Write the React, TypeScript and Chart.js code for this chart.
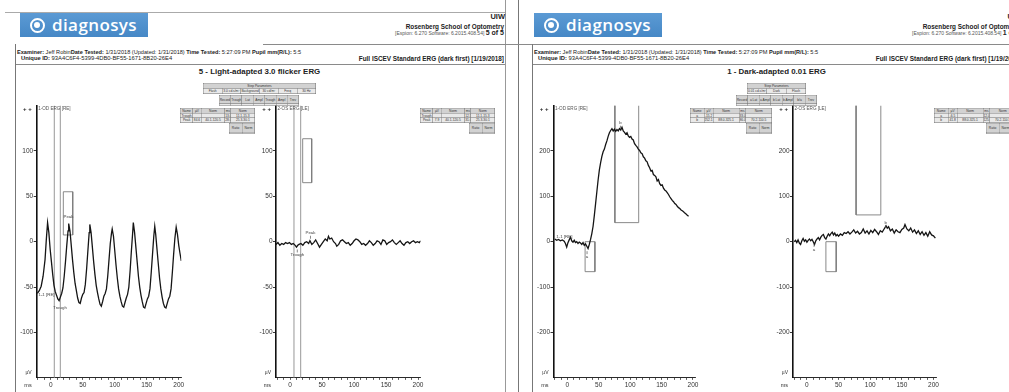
import React, { useEffect, useRef } from "react";
import { Chart, registerables } from "chart.js";
Chart.register(...registerables);

const FONT = '"Liberation Sans", Arial, Helvetica, sans-serif';
type Pt = [number, number];

// ---- Waveforms (ms, µV) ----
const flickerRE: Pt[] = [
  [-21, -57], [-18, -54], [-15, -49], [-12, -38], [-9, -20], [-7, 2], [-5, 21], [-3, 10], [-1, -8], [1, -22], [3, -36], [5, -48], [7, -55], [9, -59], [11, -63], [13, -65], [15, -61], [17, -57], [19, -51], [21, -38], [23, -22], [25, -4], [27, 12], [28, 20],
  [30, 12], [32, -4], [34, -20], [36, -34], [38, -46], [40, -54], [42, -62], [44, -67], [46, -68], [48, -62], [50, -58], [52, -56], [54, -47], [56, -30], [58, -10], [60, 10], [61, 19],
  [63, 10], [65, -6], [67, -22], [69, -36], [71, -48], [73, -56], [75, -63], [77, -69], [79, -71], [81, -66], [83, -60], [85, -57], [87, -52], [89, -38], [91, -20], [93, -2], [95, 10], [96, 14],
  [98, 6], [100, -10], [102, -26], [104, -40], [106, -52], [108, -60], [110, -66], [112, -71], [114, -72], [116, -67], [118, -62], [120, -58], [122, -50], [124, -32], [126, -10], [128, 10], [129, 21],
  [131, 10], [133, -6], [135, -22], [137, -38], [139, -50], [141, -59], [143, -66], [145, -72], [147, -73], [149, -68], [151, -63], [153, -60], [155, -52], [157, -34], [159, -14], [161, 6], [162.5, 17],
  [164, 8], [166, -8], [168, -24], [170, -40], [172, -52], [174, -61], [176, -68], [178, -72], [180, -73], [182, -68], [184, -63], [186, -60], [188, -52], [190, -34], [192, -14], [194, 4], [196, 16],
  [198, 8], [200, -4], [202, -13], [204, -21],
];
const flickerLE: Pt[] = [
  [-22, -3], [-19, -1], [-16, -4], [-13, -2], [-10, -3], [-7, -1], [-4, -2], [-1, -1], [2, -3], [5, -2], [8, -4], [10, -6], [12, -4], [14, -3], [17, -2], [20, -4], [23, -1], [26, 0], [29, -2], [31, 1],
  [34, -3], [37, -1], [40, 2], [43, -2], [46, -6], [49, -3], [52, 0], [55, 3], [58, 1], [60, 6], [62, 3], [65, 4], [68, 0], [71, -2], [73, -5], [76, -3], [79, 1], [82, 2], [85, 0], [88, -2],
  [91, -1], [94, -4], [97, -2], [100, 1], [103, 3], [106, 2], [109, 0], [112, -3], [115, -2], [118, -4], [121, -2], [124, 1], [127, -1], [130, -4], [133, -2], [136, 1], [139, 0], [142, -3],
  [145, 2], [148, 1], [151, -3], [154, -1], [157, 0], [160, 2], [163, -1], [166, -3], [169, -1], [172, 1], [175, -2], [178, -4], [181, -1], [184, 0], [187, -2], [190, 0], [193, 1], [196, -1],
  [199, 0], [202, -1], [204, 1],
];
const darkRE: Pt[] = [
  [-20, 6], [-17, 3], [-14, 5], [-11, 2], [-8, 4], [-5, 1], [-3, -4], [-1, -12], [1, -2], [3, 4], [5, 10], [7, 2], [9, -1], [11, 3], [13, -2], [15, 0], [17, -4], [19, -1], [21, -3], [23, -6],
  [25, -2], [27, -8], [29, -5], [31, -10], [33, -15], [35, -6], [37, 5], [39, 18], [41, 34], [43, 58], [45, 84], [47, 110], [49, 136], [51, 158], [53, 174], [55, 188], [57, 198], [59, 204],
  [61, 214], [63, 222], [65, 232], [67, 240], [69, 245], [71, 249], [73, 244], [75, 248], [77, 243], [79, 247], [81, 244], [83, 249], [85, 246], [87, 252], [89, 244], [91, 241], [93, 237],
  [95, 240], [97, 233], [99, 230], [101, 232], [103, 226], [105, 224], [107, 216], [109, 212], [111, 209], [113, 204], [115, 201], [117, 196], [119, 194], [121, 187], [123, 184], [125, 178],
  [127, 176], [129, 168], [131, 163], [133, 156], [135, 157], [137, 148], [139, 146], [141, 143], [143, 134], [145, 137], [147, 128], [149, 124], [151, 125], [153, 118], [155, 114], [157, 112],
  [159, 108], [161, 104], [163, 99], [165, 95], [167, 91], [169, 88], [171, 84], [173, 82], [175, 78], [177, 75], [179, 73], [181, 70], [183, 68], [185, 66], [187, 63], [189, 61], [191, 58], [193, 56],
];
const darkLE: Pt[] = [
  [-20, 0], [-18, 3], [-16, -2], [-14, 4], [-12, -3], [-10, -6], [-8, 2], [-6, 7], [-4, 1], [-2, 4], [0, -1], [2, 3], [4, 6], [6, 2], [8, 5], [10, 0], [12, -6], [14, 2], [16, 6], [18, 9],
  [20, 4], [22, 10], [24, 14], [26, 16], [28, 9], [30, 6], [32, 12], [34, 17], [36, 13], [38, 18], [40, 21], [42, 15], [44, 19], [46, 13], [48, 16], [50, 12], [53, 17], [56, 14], [59, 20],
  [62, 18], [65, 22], [68, 17], [71, 21], [74, 26], [77, 19], [80, 23], [83, 17], [86, 20], [89, 28], [92, 19], [95, 24], [98, 17], [101, 25], [104, 20], [107, 27], [110, 22], [113, 16],
  [116, 24], [119, 21], [122, 28], [125, 35], [127, 30], [129, 33], [132, 24], [135, 28], [138, 19], [141, 26], [144, 22], [147, 20], [150, 27], [153, 30], [155, 38], [158, 28], [161, 24],
  [164, 30], [167, 21], [170, 26], [173, 18], [176, 24], [179, 16], [182, 22], [185, 14], [188, 20], [191, 12], [194, 22], [197, 15], [200, 13], [203, 8],
];

// ---- Axis tick labels ----
const xTickLabels = [0, 50, 100, 150, 200];
const lightYLabels = [-100, -50, 0, 50, 100];
const darkYLabels = [-200, -100, 0, 100, 200];

// ---- Cursors (ms) and windows (ms / µV) ----
const flickerRECursors = [5.5, 14.9];
const flickerLECursors = [6.1, 16.6];
type Box = { x0: number; x1: number; y0: number; y1: number; open?: boolean };
const flickerREBoxes: Box[] = [{ x0: 19.6, x1: 34.3, y0: 7.4, y1: 55 }];
const flickerLEBoxes: Box[] = [{ x0: 19.7, x1: 33.8, y0: 65, y1: 113.4 }];
const darkREBoxes: Box[] = [{ x0: 28.3, x1: 43.9, y0: -66, y1: 0 }, { x0: 75.7, x1: 113.6, y0: 42, y1: 300, open: true }];
const darkLEBoxes: Box[] = [{ x0: 30, x1: 46.3, y0: -66, y1: 0 }, { x0: 77.7, x1: 116.8, y0: 59, y1: 300, open: true }];

type Lbl = { t: string; x: number; y: number; tick?: "up" | "down" };
const flickerRELabels: Lbl[] = [{ t: "Peak", x: 27.7, y: 27.5 }, { t: "Trough", x: 14.4, y: -72.7 }, { t: "1-1 [RE]", x: -6.7, y: -58.7 }];
const flickerLELabels: Lbl[] = [{ t: "Peak", x: 31.9, y: 9.3, tick: "down" }, { t: "Trough", x: 11.3, y: -14.6, tick: "up" }];
const darkRELabels: Lbl[] = [{ t: "b", x: 84.6, y: 261, tick: "down" }, { t: "a", x: 31.4, y: -33, tick: "up" }, { t: "1-1 [RE]", x: -4.8, y: 11 }];
const darkLELabels: Lbl[] = [{ t: "b", x: 124.4, y: 42, tick: "down" }, { t: "a", x: 11.3, y: -17, tick: "up" }];

type Area = { l: number; r: number; t: number; b: number };

function ErgChart(props: {
  area: Area; yMin: number; yMax: number; yStep: number; yLabels: number[];
  trace: Pt[]; cursors: number[]; boxes: Box[]; labels: Lbl[]; channel: string;
}) {
  const ref = useRef<HTMLCanvasElement>(null);
  const { area } = props;
  const cl = Math.floor(area.l) - 34;
  const ct = 92;
  const cw = Math.ceil(area.r - cl) + 12;
  const ch = 300;
  useEffect(() => {
    const { yMin, yMax, yStep, yLabels, trace, cursors, boxes, labels, channel } = props;
    const datasets: any[] = [];
    datasets.push({ data: trace.map(([x, y]) => ({ x, y })), borderColor: "#151515", borderWidth: 1.3, pointRadius: 0, tension: 0 });
    cursors.forEach((c) => datasets.push({ data: [{ x: c, y: yMin }, { x: c, y: yMax }], borderColor: "#8c8c8c", borderWidth: 0.9, pointRadius: 0 }));
    boxes.forEach((b) => {
      const pts = b.open
        ? [[b.x0, b.y1], [b.x0, b.y0], [b.x1, b.y0], [b.x1, b.y1]]
        : [[b.x0, b.y0], [b.x0, b.y1], [b.x1, b.y1], [b.x1, b.y0], [b.x0, b.y0]];
      datasets.push({ data: pts.map(([x, y]) => ({ x, y })), borderColor: "#7c7c7c", borderWidth: 0.9, pointRadius: 0 });
    });
    const annot = {
      id: "ergAnnot",
      afterDatasetsDraw(chart: any) {
        const { ctx, chartArea: a, scales } = chart;
        ctx.save();
        ctx.textBaseline = "middle";
        ctx.fillStyle = "#222";
        ctx.font = `bold 6px ${FONT}`;
        ctx.textAlign = "right";
        ctx.fillText("+ +", a.left - 5, a.top + 3.5);
        ctx.font = `4.6px ${FONT}`;
        ctx.fillStyle = "#555";
        ctx.textAlign = "left";
        ctx.fillText(channel, a.left + 1.5, a.top + 3.5);
        ctx.fillStyle = "#333";
        ctx.font = `5px ${FONT}`;
        ctx.textAlign = "right";
        ctx.fillText("µV", a.left - 5, a.bottom - 5);
        ctx.font = `5.5px ${FONT}`;
        ctx.fillText("ms", a.left - 5, a.bottom + 7.5);
        ctx.font = `4.4px ${FONT}`;
        ctx.textAlign = "center";
        ctx.fillStyle = "#444";
        ctx.strokeStyle = "#555";
        ctx.lineWidth = 0.7;
        labels.forEach((l) => {
          const px = scales.x.getPixelForValue(l.x);
          const py = scales.y.getPixelForValue(l.y);
          ctx.fillText(l.t, px, py);
          if (l.tick) {
            const d = l.tick === "down" ? 1 : -1;
            ctx.beginPath();
            ctx.moveTo(px, py + d * 2.5);
            ctx.lineTo(px, py + d * 5.5);
            ctx.stroke();
          }
        });
        ctx.restore();
      },
    };
    const chart = new Chart(ref.current as HTMLCanvasElement, {
      type: "line",
      data: { datasets },
      options: {
        animation: false,
        responsive: false,
        devicePixelRatio: 1,
        events: [],
        layout: { padding: { top: area.t - ct, right: cl + cw - area.r, left: 0, bottom: 0 } },
        plugins: { legend: { display: false }, tooltip: { enabled: false } },
        scales: {
          x: {
            type: "linear", min: -22, max: 204,
            afterFit: (s: any) => { s.height = ct + ch - area.b; },
            border: { display: true, color: "#2a2a2a", width: 1 },
            grid: { drawOnChartArea: false, drawTicks: true, tickLength: 2, color: "#333", lineWidth: 0.8 },
            ticks: {
              stepSize: 10, includeBounds: false, autoSkip: false, maxRotation: 0, minRotation: 0, padding: 1.5,
              font: { size: 6.5, family: FONT }, color: "#333",
              callback: (v: any) => (xTickLabels.includes(Number(v)) ? String(v) : ""),
            },
          },
          y: {
            type: "linear", min: yMin, max: yMax,
            afterFit: (s: any) => { s.width = area.l - cl; },
            border: { display: true, color: "#111", width: 1.6 },
            grid: { drawOnChartArea: false, drawTicks: true, tickLength: 3, color: "#222", lineWidth: 0.9 },
            ticks: {
              stepSize: yStep, includeBounds: false, padding: 0.5,
              font: { size: 6.5, family: FONT }, color: "#333",
              callback: (v: any) => (yLabels.includes(Number(v)) ? String(v) : null),
            },
          },
        },
      } as any,
      plugins: [annot],
    });
    return () => chart.destroy();
  }, []);
  return (
    <canvas
      ref={ref}
      width={cw}
      height={ch}
      style={{ position: "absolute", left: cl, top: ct, width: cw, height: ch }}
    />
  );
}

function MiniTable(props: { x: number; y: number; w: number; h: number; rows: string[][]; widths?: number[]; head?: boolean }) {
  const { x, y, w, h, rows, widths, head } = props;
  const maxCols = Math.max(...rows.map((r) => r.length));
  return (
    <div style={{ position: "absolute", left: x, top: y, width: w * 2, height: h * 2, transform: "scale(0.5)", transformOrigin: "0 0", zIndex: 2 }}>
      <table style={{ borderCollapse: "collapse", width: "100%", height: "100%", tableLayout: "fixed", fontFamily: FONT, fontSize: 6.5, color: "#333", background: "#fff" }}>
        {widths && (
          <colgroup>
            {widths.map((cw, i) => <col key={i} style={{ width: `${cw}%` }} />)}
          </colgroup>
        )}
        <tbody>
          {rows.map((r, i) => (
            <tr key={i}>
              {r.map((c, j) => (
                <td
                  key={j}
                  colSpan={r.length === 1 ? maxCols : 1}
                  style={{ border: "1.3px solid #6a6a6a", background: head && i === 0 ? "#d2d2d2" : "#e9e9e9", padding: 0, textAlign: "center", overflow: "hidden", whiteSpace: "nowrap", lineHeight: 1 }}
                >
                  {c}
                </td>
              ))}
            </tr>
          ))}
        </tbody>
      </table>
    </div>
  );
}

const txt = (x: number, y: number, size: number, align: "left" | "right" | "center", extra: React.CSSProperties = {}): React.CSSProperties => {
  const base: React.CSSProperties = { position: "absolute", top: y - size * 0.6, fontSize: size, lineHeight: `${size * 1.2}px`, whiteSpace: "nowrap", fontFamily: FONT, color: "#222", ...extra };
  if (align === "left") return { ...base, left: x };
  if (align === "right") return { ...base, left: x - 500, width: 500, textAlign: "right" };
  return { ...base, left: x - 250, width: 500, textAlign: "center" };
};

const line = (x: number, y: number, w: number, h: number, c = "#8a8a8a"): React.CSSProperties => ({ position: "absolute", left: x, top: y, width: w, height: h, background: c });

function Header(props: { dx: number; logoX: number; title: string; page: string; rule44: number }) {
  const { dx, logoX, title, page, rule44 } = props;
  return (
    <>
      <div style={{ position: "absolute", left: logoX, top: 13, width: 128, height: 24, overflow: "hidden", background: "linear-gradient(#5b9ad4, #4688c6)" }}>
        <div style={{ position: "absolute", left: 9.5, top: 4.5, width: 11, height: 11, borderRadius: "50%", border: "2px solid #fff" }} />
        <div style={{ position: "absolute", left: 14, top: 9, width: 6, height: 6, borderRadius: "50%", background: "#fff" }} />
        <div style={{ position: "absolute", left: 32, top: 0.5, fontFamily: '"Open Sans", "DejaVu Sans", sans-serif', fontWeight: 600, fontSize: 17, lineHeight: "21px", color: "#fff", letterSpacing: 0.4 }}>diagnosys</div>
      </div>
      <div style={txt(505 + dx, 16, 7.5, "right", { fontWeight: 700 })}>UIW</div>
      <div style={txt(504 + dx, 26.5, 6.4, "right", { fontWeight: 700 })}>Rosenberg School of Optometry</div>
      <div style={txt(504 + dx, 33, 5, "right", { color: "#555" })}>
        [Espion: 6.270 Software: 6.2015.408.54] <b style={{ fontSize: 7, color: "#222" }}>{page}</b>
      </div>
      <div style={line(rule44, 44, 1009 - rule44, 1)} />
      <div style={txt(17 + dx, 52.5, 5.6, "left")}>
        <b>Examiner:</b> Jeff Robin<b>Date Tested:</b> 1/31/2018 (Updated: 1/31/2018) <b>Time Tested:</b> 5:27:09 PM <b>Pupil mm(R/L):</b> 5:5
      </div>
      <div style={txt(21 + dx, 58.5, 5.8, "left")}>
        <b>Unique ID:</b> 93A4C6F4-5399-4DB0-BF55-1671-8B20-26E4
      </div>
      <div style={txt(504 + dx, 58.5, 6.4, "right", { fontWeight: 700 })}>Full ISCEV Standard ERG (dark first) [1/19/2018]</div>
      <div style={line(15 + dx, 63.5, 490, 1)} />
      <div style={line(15 + dx, 44, 1, 348, "#777")} />
      <div style={txt(259.5 + dx, 72, 7.9, "center", { fontWeight: 700 })}>{title}</div>
    </>
  );
}

const nameCols = [17, 11, 32, 8, 32];

export default function App() {
  return (
    <div style={{ position: "fixed", left: 0, top: 0, width: 1009, height: 392, overflow: "hidden", background: "#fff" }}>
      <div style={line(5, 12, 500, 1, "#aaa")} />
      <div style={line(505, 0, 1, 392, "#999")} />
      <div style={line(518, 0, 1, 392, "#777")} />

      <Header dx={0} logoX={20} title="5 - Light-adapted 3.0 flicker ERG" page="5 of 5" rule44={263} />
      <Header dx={517} logoX={534} title="1 - Dark-adapted 0.01 ERG" page="1 of 5" rule44={790} />

      {/* left page tables */}
      <MiniTable x={203} y={83} w={113} h={11} head rows={[["Step Parameters"], ["Flash", "3.0 cd.s/m²", "Background", "30 cd/m²", "Freq", "30 Hz"]]} />
      <MiniTable x={219} y={94.7} w={80} h={10.3} head rows={[["Record", "Trough", "Lat", "Ampl", "Trough", "Ampl", "Trev"], ["", "", "", "", "", "", ""]]} />
      <MiniTable x={180} y={107.7} w={75} h={15} head widths={nameCols} rows={[["Name", "µV", "Norm", "ms", "Norm"], ["Trough", "", "", "13.0", "11.1-15.3"], ["Peak", "84.6", "40.1-120.5", "28.0", "25.3-30.1"]]} />
      <MiniTable x={229} y={123.3} w={26} h={10.7} head rows={[["Ratio", "Norm"], ["", ""]]} />
      <MiniTable x={420} y={107.7} w={75} h={15} head widths={nameCols} rows={[["Name", "µV", "Norm", "ms", "Norm"], ["Trough", "", "", "12.5", "11.1-15.3"], ["Peak", "7.9", "40.1-120.5", "31.0", "25.3-30.1"]]} />
      <MiniTable x={469} y={123.3} w={26} h={10.7} head rows={[["Ratio", "Norm"], ["", ""]]} />

      {/* right page tables */}
      <MiniTable x={747} y={83} w={59} h={11} head rows={[["Step Parameters"], ["0.01 cd.s/m²", "Dark", "Flash"]]} />
      <MiniTable x={736} y={94.7} w={81} h={10.3} head rows={[["Record", "a Lat", "a Ampl", "b Lat", "b Ampl", "b/a", "Trev"], ["", "", "", "", "", "", ""]]} />
      <MiniTable x={690} y={107.7} w={82} h={15} head widths={nameCols} rows={[["Name", "µV", "Norm", "ms", "Norm"], ["a", "-15.2", "", "33.0", ""], ["b", "252.1", "88.0-325.1", "86.0", "70.2-110.5"]]} />
      <MiniTable x={745.7} y={123.3} w={26} h={10.7} head rows={[["Ratio", "Norm"], ["", ""]]} />
      <MiniTable x={934.3} y={107.7} w={82} h={15} head widths={nameCols} rows={[["Name", "µV", "Norm", "ms", "Norm"], ["a", "-6.5", "", "12.0", ""], ["b", "41.8", "88.0-325.1", "125.0", "70.2-110.5"]]} />
      <MiniTable x={986} y={123.3} w={26} h={10.7} head rows={[["Ratio", "Norm"], ["", ""]]} />

      <ErgChart area={{ l: 36.7, r: 181.3, t: 105.5, b: 377.9 }} yMin={-150} yMax={150} yStep={50} yLabels={lightYLabels}
        trace={flickerRE} cursors={flickerRECursors} boxes={flickerREBoxes} labels={flickerRELabels} channel="1-OD ERG [RE]" />
      <ErgChart area={{ l: 276, r: 420.6, t: 105.5, b: 377.9 }} yMin={-150} yMax={150} yStep={50} yLabels={lightYLabels}
        trace={flickerLE} cursors={flickerLECursors} boxes={flickerLEBoxes} labels={flickerLELabels} channel="2-OS ERG [LE]" />
      <ErgChart area={{ l: 553.5, r: 695.5, t: 105.5, b: 377.9 }} yMin={-300} yMax={300} yStep={100} yLabels={darkYLabels}
        trace={darkRE} cursors={[]} boxes={darkREBoxes} labels={darkRELabels} channel="1-OD ERG [RE]" />
      <ErgChart area={{ l: 793, r: 936, t: 105.5, b: 377.9 }} yMin={-300} yMax={300} yStep={100} yLabels={darkYLabels}
        trace={darkLE} cursors={[]} boxes={darkLEBoxes} labels={darkLELabels} channel="2-OS ERG [LE]" />
    </div>
  );
}
